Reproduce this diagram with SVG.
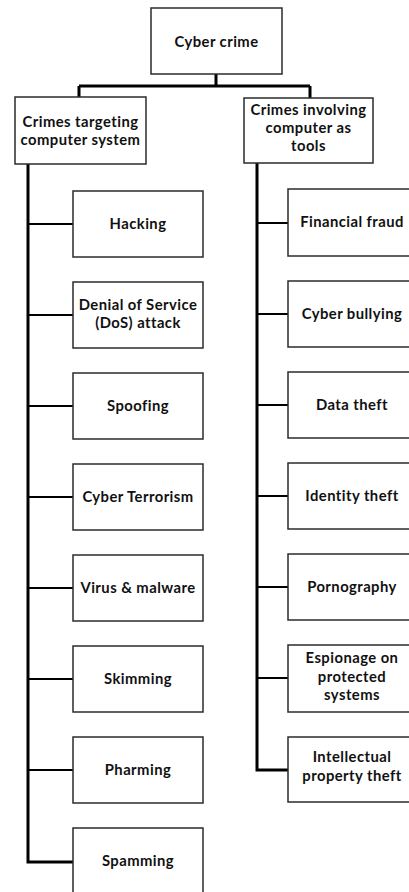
<svg xmlns="http://www.w3.org/2000/svg" width="409" height="892" viewBox="0 0 409 892">
<style>
.box{fill:#fff;stroke:#2b2b2b;stroke-width:1.5}
.t{font-family:Lato,"Liberation Sans",sans-serif;font-weight:bold;font-size:14.8px;letter-spacing:0.45px;fill:#111;text-anchor:middle}
.trunk{stroke:#000;stroke-width:3;fill:none}
.br{stroke:#000;stroke-width:2;fill:none}
</style>
<rect width="409" height="892" fill="#fff"/>
<g id="connectors">
<path class="trunk" d="M216 74V86M79 86H310M79 86V97M310 86V98"/>
<path class="trunk" d="M28 164V862H73"/>
<path class="trunk" d="M257 163V770H288"/>
<path class="br" d="M28 224H73M28 315H73M28 406H73M28 497H73M28 588H73M28 679H73M28 770H73"/>
<path class="br" d="M257 223H288M257 314H288M257 405H288M257 496H288M257 587H288M257 678H288"/>
</g>
<g id="root"><rect class="box" x="151" y="8" width="131" height="66"/><text class="t" x="216.5" y="47">Cyber crime</text></g>
<g id="cat1"><rect class="box" x="15" y="97" width="131" height="67"/><text class="t" x="80.5" y="127">Crimes targeting</text><text class="t" x="80.5" y="145">computer system</text></g>
<g id="cat2"><rect class="box" x="244" y="98" width="129" height="65"/><text class="t" x="308.5" y="115">Crimes involving</text><text class="t" x="308.5" y="133">computer as</text><text class="t" x="308.5" y="151">tools</text></g>
<g id="hacking"><rect class="box" x="73" y="191" width="130" height="66"/><text class="t" x="138" y="229">Hacking</text></g>
<g id="dos"><rect class="box" x="73" y="282" width="130" height="66"/><text class="t" x="138" y="310">Denial of Service</text><text class="t" x="138" y="328">(DoS) attack</text></g>
<g id="spoofing"><rect class="box" x="73" y="373" width="130" height="66"/><text class="t" x="138" y="411">Spoofing</text></g>
<g id="terrorism"><rect class="box" x="73" y="464" width="130" height="66"/><text class="t" x="138" y="502">Cyber Terrorism</text></g>
<g id="virus"><rect class="box" x="73" y="555" width="130" height="66"/><text class="t" x="138" y="593">Virus &amp; malware</text></g>
<g id="skimming"><rect class="box" x="73" y="646" width="130" height="66"/><text class="t" x="138" y="684">Skimming</text></g>
<g id="pharming"><rect class="box" x="73" y="737" width="130" height="66"/><text class="t" x="138" y="775">Pharming</text></g>
<g id="spamming"><rect class="box" x="73" y="828" width="130" height="66"/><text class="t" x="138" y="866">Spamming</text></g>
<g id="fraud"><rect class="box" x="288" y="189" width="130" height="67"/><text class="t" x="352" y="227">Financial fraud</text></g>
<g id="bullying"><rect class="box" x="288" y="281" width="130" height="66"/><text class="t" x="352" y="319">Cyber bullying</text></g>
<g id="datatheft"><rect class="box" x="288" y="372" width="130" height="66"/><text class="t" x="352" y="410">Data theft</text></g>
<g id="identity"><rect class="box" x="288" y="463" width="130" height="66"/><text class="t" x="352" y="501">Identity theft</text></g>
<g id="porn"><rect class="box" x="288" y="554" width="130" height="66"/><text class="t" x="352" y="592">Pornography</text></g>
<g id="espionage"><rect class="box" x="288" y="645" width="130" height="67"/><text class="t" x="352" y="663">Espionage on</text><text class="t" x="352" y="682">protected</text><text class="t" x="352" y="700">systems</text></g>
<g id="ip"><rect class="box" x="288" y="737" width="130" height="65"/><text class="t" x="352" y="762">Intellectual</text><text class="t" x="352" y="781">property theft</text></g>
</svg>
